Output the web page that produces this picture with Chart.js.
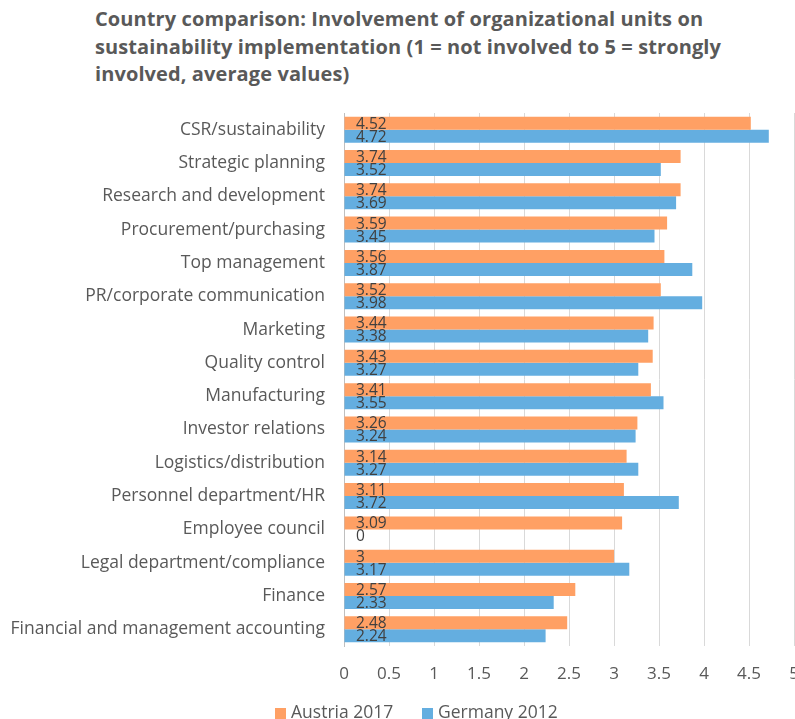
<!DOCTYPE html>
<html>
<head>
<meta charset="utf-8">
<script src="https://cdn.jsdelivr.net/npm/chart.js@4"></script>
<style>
  body { margin: 0; background: #fff; overflow: hidden; }
  #title {
    position: absolute; left: 95px; top: 5px; width: 700px; white-space: nowrap;
    font-family: "Open Sans", sans-serif; font-weight: bold; font-size: 20px;
    letter-spacing: 0.1px; line-height: 27.5px; color: #595959;
  }
  #wrap { position: absolute; left: 0; top: 0; }
  .legendItem {
    position: absolute; top: 699px; white-space: nowrap;
    font-family: "Open Sans", sans-serif; font-size: 17.5px; line-height: 24px; color: #595959;
  }
  .legendItem i {
    display: inline-block; width: 11px; height: 11px; margin-right: 5px; vertical-align: -1px;
  }
</style>
</head>
<body>
<div id="title">Country comparison: Involvement of organizational units on<br>sustainability implementation (1 = not involved to 5 = strongly<br>involved, average values)</div>
<div id="wrap"><canvas id="chBars" width="830" height="740"></canvas></div>
<div id="legend"></div>
<script>
// units, top to bottom
var units = [
    'CSR/sustainability', 'Strategic planning', 'Research and development',
    'Procurement/purchasing', 'Top management', 'PR/corporate communication',
    'Marketing', 'Quality control', 'Manufacturing', 'Investor relations',
    'Logistics/distribution', 'Personnel department/HR', 'Employee council',
    'Legal department/compliance', 'Finance', 'Financial and management accounting'
];
var seriesNames = ['Austria 2017', 'Germany 2012'];
var austria2017 = [4.52, 3.74, 3.74, 3.59, 3.56, 3.52, 3.44, 3.43, 3.41, 3.26, 3.14, 3.11, 3.09, 3, 2.57, 2.48];
var germany2012 = [4.72, 3.52, 3.69, 3.45, 3.87, 3.98, 3.38, 3.27, 3.55, 3.24, 3.27, 3.72, 0, 3.17, 2.33, 2.24];
var xTicks = [0, 0.5, 1, 1.5, 2, 2.5, 3, 3.5, 4, 4.5, 5];

// orange, blue
var barColors = ['#ffa064', '#64aee0'];

// writes each value at the base of its bar
var valueLabels = {
    id: 'valueLabels',
    afterDatasetsDraw: function (chart) {
        var ctx = chart.ctx;
        var x0 = chart.scales.x.getPixelForValue(0);
        ctx.save();
        ctx.font = '15.5px "Open Sans", sans-serif';
        ctx.fillStyle = '#404040';
        ctx.textAlign = 'left';
        ctx.textBaseline = 'middle';
        chart.data.datasets.forEach(function (ds, i) {
            chart.getDatasetMeta(i).data.forEach(function (bar, j) {
                ctx.fillText(String(ds.data[j]), x0 + 12, bar.y + 1);
            });
        });
        ctx.restore();
    }
};

function createBarChart(chartName) {
    var el = document.getElementById(chartName);
    return new Chart(el, {
        type: 'bar',
        data: {
            labels: units,
            datasets: [
                { label: seriesNames[0], data: austria2017, backgroundColor: barColors[0] },
                { label: seriesNames[1], data: germany2012, backgroundColor: barColors[1] }
            ]
        },
        options: {
            indexAxis: 'y',
            responsive: false,
            animation: false,
            devicePixelRatio: 1,
            categoryPercentage: 0.78,
            barPercentage: 1.0,
            layout: { padding: { top: 113, right: 36, left: 0, bottom: 50 } },
            scales: {
                x: {
                    min: 0,
                    max: 5,
                    afterBuildTicks: function (scale) {
                        scale.ticks = xTicks.map(function (v) { return { value: v }; });
                    },
                    afterFit: function (scale) { scale.height = 44; },
                    grid: { color: '#d9d9d9', drawTicks: false },
                    border: { display: false },
                    ticks: {
                        padding: 18,
                        color: '#595959',
                        font: { family: 'Open Sans', size: 17 },
                        callback: function (v) { return String(v); }
                    }
                },
                y: {
                    afterFit: function (scale) { scale.width = 344; },
                    grid: { display: false, drawTicks: false },
                    border: { display: true, color: '#bfbfbf' },
                    ticks: {
                        padding: 19,
                        autoSkip: false,
                        color: '#595959',
                        font: { family: 'Open Sans', size: 17.5 }
                    }
                }
            },
            plugins: {
                legend: { display: false },
                tooltip: { enabled: false }
            }
        },
        plugins: [valueLabels]
    });
}

// legend below the axis, built from the chart's datasets
function appendLegend(chart, elementName) {
    var box = document.getElementById(elementName);
    var lefts = [275, 422];
    chart.data.datasets.forEach(function (ds, i) {
        var item = document.createElement('div');
        item.className = 'legendItem';
        item.style.left = lefts[i] + 'px';
        var swatch = document.createElement('i');
        swatch.style.background = ds.backgroundColor;
        item.appendChild(swatch);
        item.appendChild(document.createTextNode(ds.label));
        box.appendChild(item);
    });
}

var chart = createBarChart('chBars');
appendLegend(chart, 'legend');
</script>
</body>
</html>
